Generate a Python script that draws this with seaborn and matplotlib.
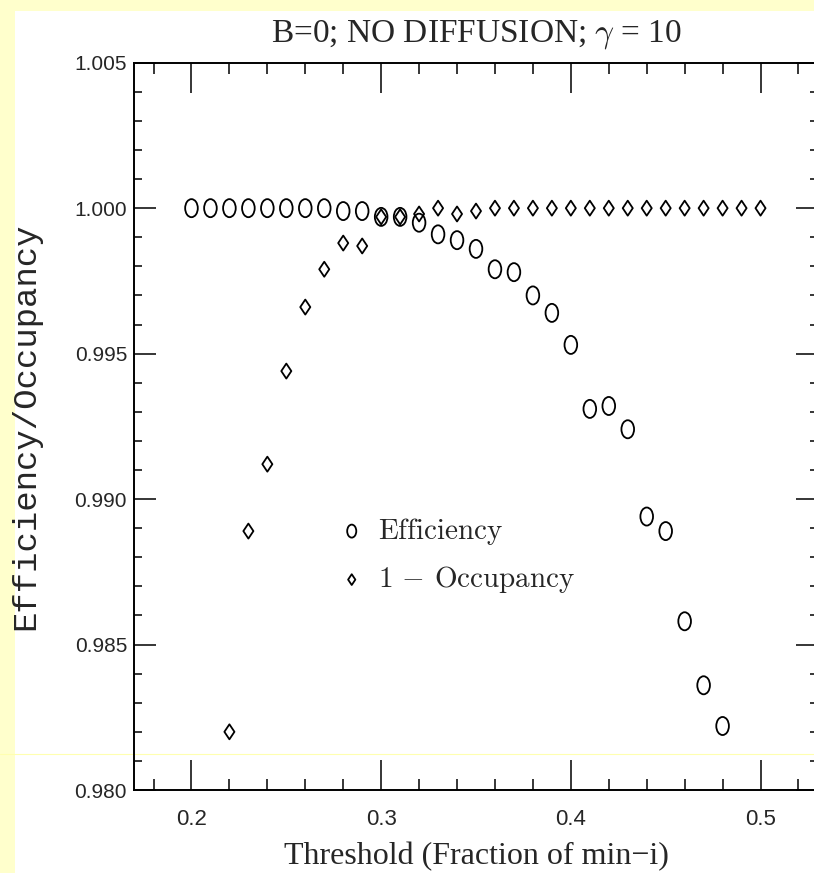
import numpy as np
import pandas as pd
import matplotlib
matplotlib.use("Agg")
import matplotlib.pyplot as plt
from matplotlib.path import Path
from matplotlib.transforms import Affine2D
from matplotlib.lines import Line2D
from matplotlib.patches import Rectangle
from matplotlib.ticker import MultipleLocator, FormatStrFormatter
import seaborn as sns

# Threshold scan results
eff_threshold = [0.20, 0.21, 0.22, 0.23, 0.24, 0.25, 0.26, 0.27, 0.28, 0.29,
                 0.30, 0.31, 0.32, 0.33, 0.34, 0.35, 0.36, 0.37, 0.38, 0.39,
                 0.40, 0.41, 0.42, 0.43, 0.44, 0.45, 0.46, 0.47, 0.48]
efficiency = [1.0000, 1.0000, 1.0000, 1.0000, 1.0000, 1.0000, 1.0000, 1.0000, 0.9999, 0.9999,
              0.9997, 0.9997, 0.9995, 0.9991, 0.9989, 0.9986, 0.9979, 0.9978, 0.9970, 0.9964,
              0.9953, 0.9931, 0.9932, 0.9924, 0.9894, 0.9889, 0.9858, 0.9836, 0.9822]

occ_threshold = [0.22, 0.23, 0.24, 0.25, 0.26, 0.27, 0.28, 0.29, 0.30, 0.31,
                 0.32, 0.33, 0.34, 0.35, 0.36, 0.37, 0.38, 0.39, 0.40, 0.41,
                 0.42, 0.43, 0.44, 0.45, 0.46, 0.47, 0.48, 0.49, 0.50]
one_minus_occupancy = [0.9820, 0.9889, 0.9912, 0.9944, 0.9966, 0.9979, 0.9988, 0.9987, 0.9997, 0.9997,
                       0.9998, 1.0000, 0.9998, 0.9999, 1.0000, 1.0000, 1.0000, 1.0000, 1.0000, 1.0000,
                       1.0000, 1.0000, 1.0000, 1.0000, 1.0000, 1.0000, 1.0000, 1.0000, 1.0000]

x_ticks = [0.2, 0.3, 0.4, 0.5]
y_ticks = [0.980, 0.985, 0.990, 0.995, 1.000, 1.005]

eff_df = pd.DataFrame({"threshold": eff_threshold, "value": efficiency})
occ_df = pd.DataFrame({"threshold": occ_threshold, "value": one_minus_occupancy})

sns.set_theme(style="ticks")
plt.rcParams["mathtext.fontset"] = "cm"
plt.rcParams["font.family"] = ["Liberation Sans", "DejaVu Sans"]

# tall open markers
ellipse = Path.unit_circle().transformed(Affine2D().scale(0.7, 1.0))
diamond = Path([(0, 1), (0.67, 0), (0, -1), (-0.67, 0), (0, 1)],
               [Path.MOVETO, Path.LINETO, Path.LINETO, Path.LINETO, Path.CLOSEPOLY])

W, H = 814, 873
fig = plt.figure(figsize=(W / 100, H / 100), dpi=100)
fig.patch.set_facecolor("#FFFFCC")
fig.add_artist(Rectangle((15 / W, 0), 1, 1 - 11 / H, transform=fig.transFigure,
                         facecolor="white", edgecolor="none", zorder=-10))
fig.add_artist(Line2D([0, 1], [1 - 754 / H, 1 - 754 / H], transform=fig.transFigure,
                      color="#FFFFB0", lw=0.8, zorder=-5))

ax = fig.add_axes([134 / W, 1 - 790 / H, 684 / W, 727.3 / H])
ax.set_facecolor("none")

sns.scatterplot(data=eff_df, x="threshold", y="value", marker=ellipse, s=169,
                linewidth=1.3, ax=ax, label="$\\mathrm{Efficiency}$")
sns.scatterplot(data=occ_df, x="threshold", y="value", marker=diamond, s=117,
                linewidth=1.3, ax=ax, label="$1\\,-\\,\\mathrm{Occupancy}$")
for coll in ax.collections:
    coll.set_facecolor("none")
    coll.set_edgecolor("black")

ax.set_xlim(0.1697, 0.5303)
ax.set_ylim(0.980, 1.005)
ax.set_xticks(x_ticks)
ax.set_yticks(y_ticks)
ax.xaxis.set_minor_locator(MultipleLocator(0.02))
ax.yaxis.set_minor_locator(MultipleLocator(0.001))
ax.xaxis.set_major_formatter(FormatStrFormatter("%.1f"))
ax.yaxis.set_major_formatter(FormatStrFormatter("%.3f"))

for sp in ax.spines.values():
    sp.set_linewidth(1.4)
    sp.set_color("black")
    sp.set_visible(True)

ax.tick_params(which="both", direction="in", top=True, right=True, width=1.1, color="black")
ax.tick_params(axis="x", which="major", length=21.6, pad=13.5, labelsize=16)
ax.tick_params(axis="x", which="minor", length=7.6)
ax.tick_params(axis="y", which="major", length=15.8, pad=5, labelsize=15)
ax.tick_params(axis="y", which="minor", length=5.8)

ax.set_xlabel("Threshold (Fraction of min\u2212i)", family=["Liberation Serif", "DejaVu Serif"],
              fontsize=23)
ax.xaxis.set_label_coords(0.5, -0.071)
ax.set_ylabel("Efficiency/Occupancy", family=["Liberation Mono", "DejaVu Sans Mono"],
              fontsize=24.5)
ax.yaxis.set_label_coords(-0.136, 0.5)

ax.set_title("B=0; NO DIFFUSION; $\\gamma$ = 10", family=["Liberation Serif", "DejaVu Serif"],
             fontsize=24, pad=15)

ax.legend(loc="center left", bbox_to_anchor=(0.297, 0.3224), frameon=False,
          fontsize=21, markerscale=0.72, handlelength=1.0, handletextpad=0.4,
          borderpad=0, borderaxespad=0, labelspacing=0.6)

fig.savefig("out.png", dpi=100, facecolor=fig.get_facecolor())
